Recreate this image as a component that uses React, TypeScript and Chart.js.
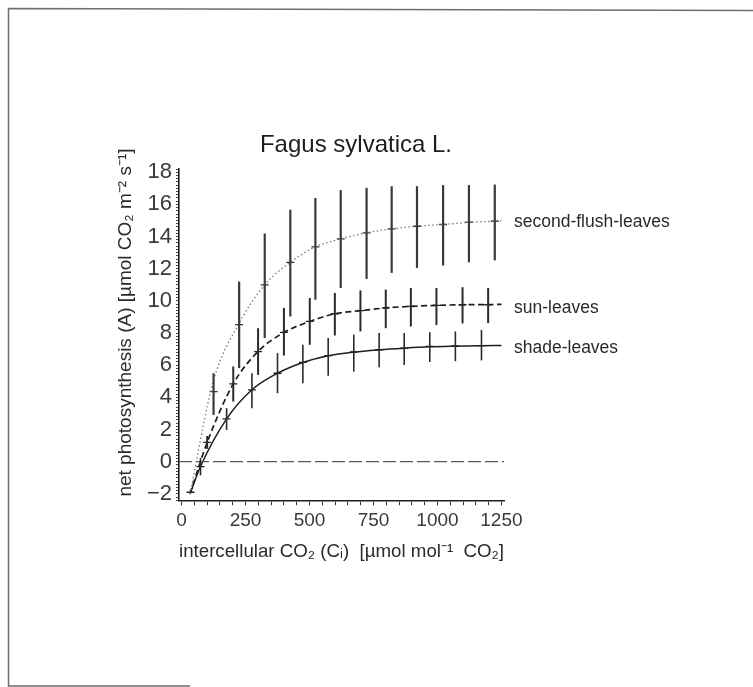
import React, { useEffect, useRef } from 'react';
import { Chart, registerables } from 'chart.js';

Chart.register(...registerables);

// ---------- text ----------
const TITLE = 'Fagus sylvatica L.';
const X_TITLE = 'intercellular CO\u2082 (C\u1D62)  [\u00B5mol mol\u207B\u00B9  CO\u2082]';
const Y_TITLE = 'net photosynthesis (A) [\u00B5mol CO\u2082 m\u207B\u00B2 s\u207B\u00B9]';
const SERIES_LABELS = ['second-flush-leaves', 'sun-leaves', 'shade-leaves'];
const LABEL_ANCHORS = [14.9, 9.55, 7.05];

// ---------- axes ----------
const X_MIN = -10;
const X_MAX = 1260;
const Y_MIN = -2.4;
const Y_MAX = 18.2;
const X_TICK_STEP = 50;
const X_LABEL_STEP = 250;
const Y_TICK_STEP = 0.2;
const Y_LABEL_STEP = 2;

// ---------- second-flush-leaves ----------
const flushX = [125, 225, 325, 425, 523, 622, 723, 821, 920, 1022, 1123, 1224];
const flushMean = [4.36, 8.52, 11.0, 12.4, 13.36, 13.86, 14.23, 14.48, 14.64, 14.75, 14.9, 14.95];
const flushLow = [2.9, 5.82, 7.69, 9.03, 10.07, 10.8, 11.36, 11.74, 12.05, 12.2, 12.4, 12.52];
const flushHigh = [5.5, 11.2, 14.19, 15.67, 16.4, 16.89, 17.03, 17.13, 17.13, 17.2, 17.2, 17.23];
const flushCurveX = [33, 124, 225, 325, 425, 523, 622, 723, 821, 920, 1022, 1123, 1224, 1250];
const flushCurveY = [-2.0, 5.0, 8.6, 11.0, 12.4, 13.36, 13.86, 14.23, 14.48, 14.64, 14.75, 14.88, 14.95, 14.97];

// ---------- sun-leaves ----------
const sunX = [100, 202, 299, 400, 501, 599, 699, 798, 896, 996, 1098, 1198];
const sunMean = [1.2, 4.84, 6.85, 8.04, 8.72, 9.2, 9.39, 9.56, 9.66, 9.72, 9.76, 9.76];
const sunLow = [0.8, 3.74, 5.4, 6.6, 7.27, 7.85, 8.1, 8.3, 8.41, 8.5, 8.6, 8.62];
const sunHigh = [1.6, 5.92, 8.3, 9.56, 10.18, 10.49, 10.65, 10.7, 10.8, 10.8, 10.85, 10.8];
const sunCurveX = [33, 100, 202, 299, 400, 501, 599, 699, 798, 896, 996, 1098, 1198, 1250];
const sunCurveY = [-2.0, 1.2, 4.84, 6.85, 8.04, 8.72, 9.2, 9.39, 9.56, 9.66, 9.72, 9.76, 9.77, 9.78];

// ---------- shade-leaves ----------
const shadeX = [35, 74, 176, 275, 375, 474, 573, 673, 772, 870, 970, 1070, 1172];
const shadeMean = [-1.9, -0.31, 2.66, 4.47, 5.5, 6.17, 6.59, 6.82, 6.96, 7.06, 7.17, 7.2, 7.22];
const shadeLow = [-1.9, -0.85, 1.97, 3.33, 4.26, 4.88, 5.34, 5.6, 5.88, 6.02, 6.2, 6.25, 6.3];
const shadeHigh = [-1.9, 0.23, 3.33, 5.5, 6.75, 7.27, 7.69, 7.9, 8.0, 8.0, 8.05, 8.1, 8.2];
const shadeCurveX = [33, 74, 176, 275, 375, 474, 573, 673, 772, 870, 970, 1070, 1172, 1250];
const shadeCurveY = [-2.0, -0.3, 2.66, 4.47, 5.5, 6.17, 6.59, 6.82, 6.96, 7.06, 7.14, 7.18, 7.21, 7.23];

// ---------- zero reference line ----------
const zeroLineX = [X_MIN, X_MAX];
const zeroLineY = [0, 0];

const FONT = "'Liberation Sans', Arial, Helvetica, sans-serif";

const pts = (xs: number[], ys: number[]) => xs.map((x, i) => ({ x, y: ys[i] }));

const errorGroups = [
  { xs: flushX, lo: flushLow, hi: flushHigh, width: 2.2, color: '#3a3a3a' },
  { xs: sunX, lo: sunLow, hi: sunHigh, width: 2, color: '#2a2a2a' },
  { xs: shadeX, lo: shadeLow, hi: shadeHigh, width: 1.6, color: '#2a2a2a' },
];

const decorPlugin = {
  id: 'decor',
  beforeDraw(chart: any) {
    const ctx = chart.ctx;
    ctx.save();
    ctx.fillStyle = '#ffffff';
    ctx.fillRect(0, 0, chart.width, chart.height);
    // scanned page frame
    ctx.strokeStyle = '#6e6e6e';
    ctx.lineWidth = 1.5;
    ctx.beginPath();
    ctx.moveTo(753, 10.5);
    ctx.lineTo(8.5, 8.5);
    ctx.lineTo(8.5, 686);
    ctx.lineTo(190, 686);
    ctx.stroke();
    ctx.restore();
  },
  afterDatasetsDraw(chart: any) {
    const ctx = chart.ctx;
    const xs = chart.scales.x;
    const ys = chart.scales.y;
    ctx.save();
    ctx.lineCap = 'butt';
    errorGroups.forEach((g) => {
      ctx.strokeStyle = g.color;
      ctx.lineWidth = g.width;
      g.xs.forEach((xv, i) => {
        if (g.hi[i] === g.lo[i]) return;
        const px = xs.getPixelForValue(xv);
        ctx.beginPath();
        ctx.moveTo(px, ys.getPixelForValue(g.lo[i]));
        ctx.lineTo(px, ys.getPixelForValue(g.hi[i]));
        ctx.stroke();
      });
    });
    ctx.restore();
  },
  afterDraw(chart: any) {
    const ctx = chart.ctx;
    const area = chart.chartArea;
    const ys = chart.scales.y;
    ctx.save();
    // title
    ctx.fillStyle = '#1e1e1e';
    ctx.font = `24px ${FONT}`;
    ctx.textAlign = 'center';
    ctx.textBaseline = 'alphabetic';
    ctx.fillText(TITLE, 356, 152);
    // y axis title
    ctx.save();
    ctx.translate(126, 322.5);
    ctx.rotate(-Math.PI / 2);
    ctx.font = `19px ${FONT}`;
    ctx.fillStyle = '#2a2a2a';
    ctx.textAlign = 'center';
    ctx.textBaseline = 'middle';
    ctx.fillText(Y_TITLE, 0, 0);
    ctx.restore();
    // series labels
    ctx.font = `17.5px ${FONT}`;
    ctx.fillStyle = '#2a2a2a';
    ctx.textAlign = 'left';
    ctx.textBaseline = 'middle';
    SERIES_LABELS.forEach((t, i) => {
      ctx.fillText(t, area.right + 10, ys.getPixelForValue(LABEL_ANCHORS[i]));
    });
    ctx.restore();
  },
};

const isMultiple = (v: number, step: number) => Math.abs(v / step - Math.round(v / step)) < 1e-6;

export default function App() {
  const canvasRef = useRef<HTMLCanvasElement | null>(null);

  useEffect(() => {
    const canvas = canvasRef.current;
    if (!canvas) return;
    const curveBase = {
      pointRadius: 0,
      fill: false,
      cubicInterpolationMode: 'monotone' as const,
    };
    const markerBase = {
      showLine: false,
      pointStyle: 'line' as const,
      pointRadius: 4,
      pointHoverRadius: 4,
      pointBorderWidth: 1.3,
    };
    const chart = new Chart(canvas, {
      type: 'line',
      data: {
        datasets: [
          {
            label: 'zero',
            data: pts(zeroLineX, zeroLineY),
            borderColor: '#5a5a5a',
            borderWidth: 1.3,
            borderDash: [13, 4],
            pointRadius: 0,
          },
          {
            ...curveBase,
            label: 'second-flush-leaves fit',
            data: pts(flushCurveX, flushCurveY),
            borderColor: '#7a7a7a',
            borderWidth: 1.3,
            borderDash: [1.5, 2.5],
          },
          {
            ...curveBase,
            label: 'sun-leaves fit',
            data: pts(sunCurveX, sunCurveY),
            borderColor: '#1e1e1e',
            borderWidth: 1.7,
            borderDash: [6, 3.5],
          },
          {
            ...curveBase,
            label: 'shade-leaves fit',
            data: pts(shadeCurveX, shadeCurveY),
            borderColor: '#1e1e1e',
            borderWidth: 1.5,
          },
          {
            ...markerBase,
            label: 'second-flush-leaves',
            data: pts(flushX, flushMean),
            borderColor: '#333333',
            pointBorderColor: '#333333',
          },
          {
            ...markerBase,
            label: 'sun-leaves',
            data: pts(sunX, sunMean),
            borderColor: '#222222',
            pointBorderColor: '#222222',
          },
          {
            ...markerBase,
            label: 'shade-leaves',
            data: pts(shadeX, shadeMean),
            borderColor: '#222222',
            pointBorderColor: '#222222',
          },
        ],
      },
      options: {
        responsive: false,
        animation: false,
        devicePixelRatio: 1,
        layout: { padding: { left: 114.6, right: 249, top: 169, bottom: 123.7 } },
        plugins: {
          legend: { display: false },
          title: { display: false },
          tooltip: { enabled: false },
        },
        scales: {
          x: {
            type: 'linear',
            position: 'bottom',
            min: X_MIN,
            max: X_MAX,
            border: { display: true, color: '#1e1e1e', width: 1.6 },
            grid: {
              display: true,
              drawOnChartArea: false,
              drawTicks: true,
              tickLength: 5,
              color: '#333333',
              lineWidth: 1,
            },
            ticks: {
              stepSize: X_TICK_STEP,
              includeBounds: false,
              autoSkip: false,
              maxRotation: 0,
              padding: 4,
              color: '#3a3a3a',
              font: { family: FONT, size: 19 },
              callback: (v: any) => (isMultiple(Number(v), X_LABEL_STEP) ? String(Math.round(Number(v))) : ''),
            },
            title: {
              display: true,
              text: X_TITLE,
              color: '#2a2a2a',
              font: { family: FONT, size: 19 },
              padding: { top: 0, bottom: 0 },
            },
            afterFit: (scale: any) => {
              scale.height = 63;
            },
          },
          y: {
            type: 'linear',
            position: 'left',
            min: Y_MIN,
            max: Y_MAX,
            border: { display: true, color: '#1e1e1e', width: 1.6 },
            grid: {
              display: true,
              drawOnChartArea: false,
              drawTicks: true,
              tickLength: 3,
              color: '#444444',
              lineWidth: 1,
            },
            ticks: {
              stepSize: Y_TICK_STEP,
              includeBounds: false,
              autoSkip: false,
              padding: 4,
              color: '#3a3a3a',
              font: { family: FONT, size: 22 },
              callback: (v: any) => {
                const n = Number(v);
                if (!isMultiple(n, Y_LABEL_STEP)) return '';
                const r = Math.round(n);
                return r < 0 ? '\u2212' + Math.abs(r) : String(r);
              },
            },
            afterFit: (scale: any) => {
              scale.width = 64.4;
            },
          },
        },
      },
      plugins: [decorPlugin],
    });
    return () => chart.destroy();
  }, []);

  return (
    <div style={{ position: 'absolute', left: 0, top: 0, width: 753, height: 687, background: '#fff' }}>
      <canvas ref={canvasRef} width={753} height={687} style={{ display: 'block', width: 753, height: 687 }} />
    </div>
  );
}
